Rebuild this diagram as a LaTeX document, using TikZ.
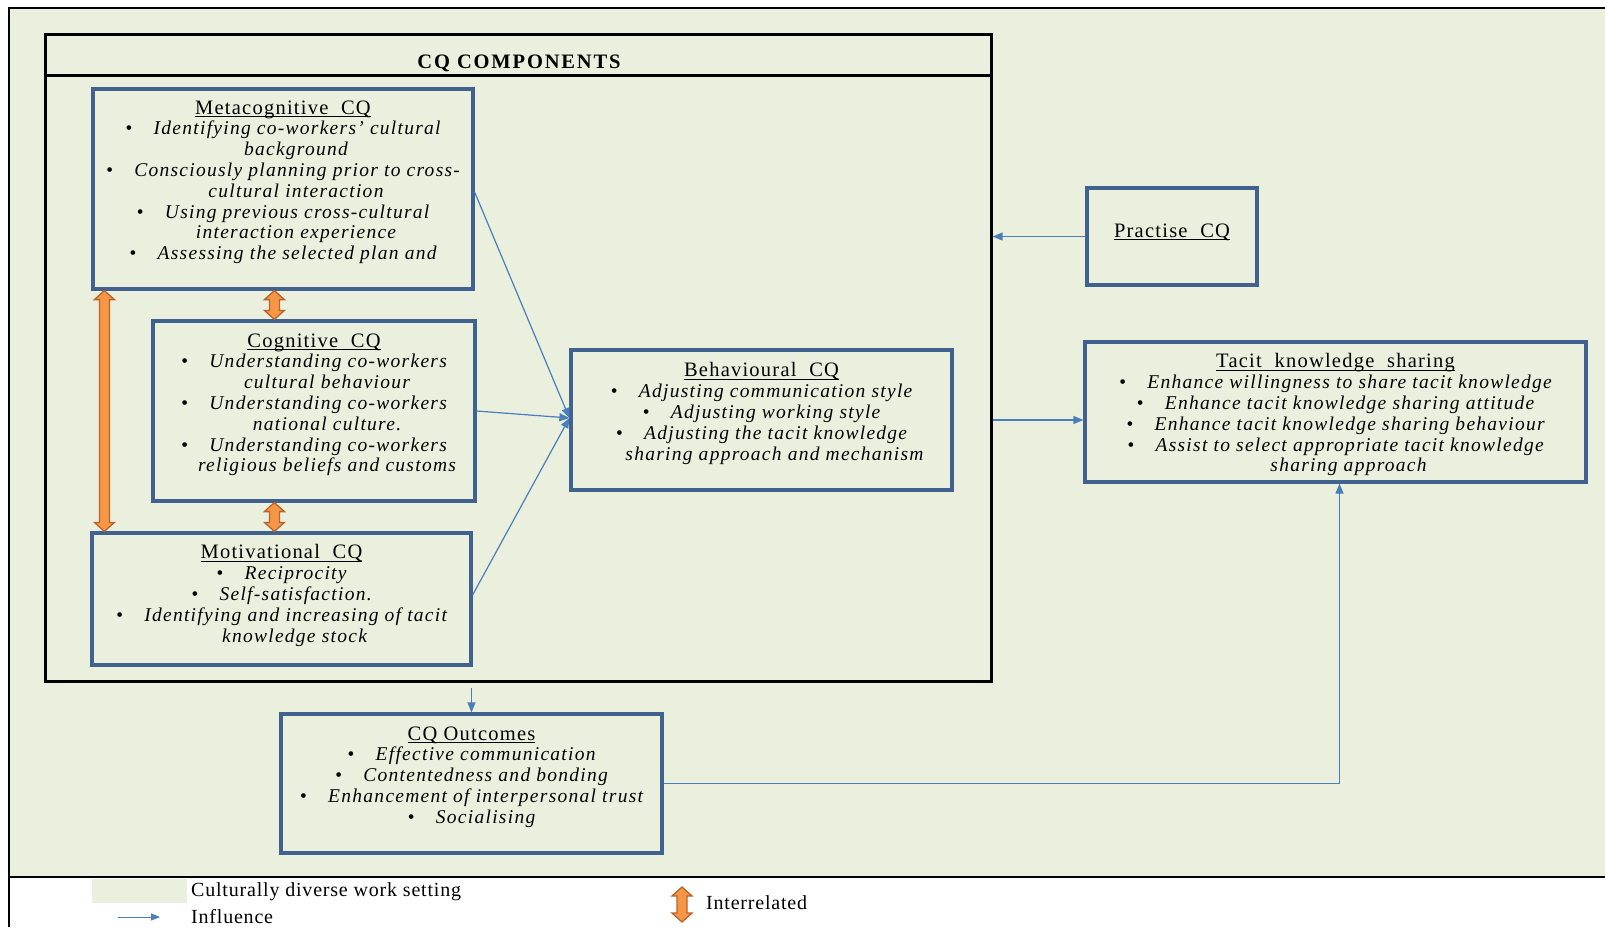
\documentclass[tikz,border=0pt]{standalone}
\usepackage{fontspec}
\setmainfont{Liberation Serif}
\newfontfamily\lsfont[LetterSpace=6.5]{Liberation Serif}
\newfontfamily\lstfont[LetterSpace=6]{Liberation Serif}
\newfontfamily\lsbfont[LetterSpace=9]{Liberation Serif}
\newfontfamily\legfont[LetterSpace=4]{Liberation Serif}
\usetikzlibrary{arrows.meta,calc}
\definecolor{bgg}{HTML}{EBF0DE}
\definecolor{boxblue}{HTML}{41618F}
\definecolor{lineblue}{HTML}{4A7EBB}
\definecolor{orfill}{HTML}{F79646}
\definecolor{ordraw}{HTML}{B7642A}
\newcommand{\bt}{\textbullet\hspace{1.1em}}
\newcommand{\cn}{\hspace*{26pt}}
\newsavebox{\ulbox}
\newcommand{\myul}[1]{\sbox{\ulbox}{#1}\rlap{\rule[-2.6pt]{\wd\ulbox}{0.9pt}}\usebox{\ulbox}}
\newcommand{\ttl}[1]{{\upshape\lstfont\fontsize{20.5}{20.8}\selectfont\myul{#1}}}
% vertical double arrow between two coordinates (first = upper)
\newcommand{\vdbl}[2]{\draw[orstyle] let \p1=(#1), \p2=(#2) in
  (\x1,\y1) -- (\x1+10pt,\y1-9pt) -- (\x1+5pt,\y1-9pt) -- (\x1+5pt,\y2+9pt) -- (\x1+10pt,\y2+9pt)
  -- (\x1,\y2) -- (\x1-10pt,\y2+9pt) -- (\x1-5pt,\y2+9pt) -- (\x1-5pt,\y1-9pt) -- (\x1-10pt,\y1-9pt) -- cycle;}
\begin{document}
\begin{tikzpicture}[x=1pt,y=-1pt,
  bluebox/.style={draw=boxblue, line width=3.2pt, fill=bgg, inner sep=0pt},
  txt/.style={anchor=north, align=center, inner sep=0pt, font=\lsfont\fontsize{19.5}{20.8}\selectfont\itshape},
  infl/.style={draw=lineblue, line width=1.2pt, -{Triangle[length=10pt,width=8pt]}},
  orstyle/.style={fill=orfill, draw=ordraw, line width=1.3pt, line join=miter},
  legtxt/.style={anchor=west, inner sep=0pt, font=\legfont\fontsize{20}{20}\selectfont}
]
\useasboundingbox (0,0) rectangle (1605,927);
\fill[white] (0,0) rectangle (1605,927);
% setting
\fill[bgg] (9,8) rectangle (1605,877);
\draw[line width=2.5pt] (1605,8) -- (9,8) -- (9,927);
\draw[line width=2.5pt] (9,877) -- (1605,877);
% components frame
\node[draw=black, line width=3pt, minimum width=946pt, minimum height=647pt, inner sep=0pt] (cqc) at (518,357.5) {};
\draw[line width=3pt] (cqc.north west |- 0,75) -- (cqc.north east |- 0,75);
\node[inner sep=0pt, font=\lsbfont\bfseries\fontsize{20.5}{20}\selectfont] (cqct) at (519,63) {CQ COMPONENTS};
% boxes
\node[bluebox, minimum width=380pt, minimum height=200pt] (meta) at (283,189) {};
\node[bluebox, minimum width=322pt, minimum height=180pt] (cog) at (314,411) {};
\node[bluebox, minimum width=379pt, minimum height=132pt] (mot) at (281.5,599) {};
\node[bluebox, minimum width=381pt, minimum height=140pt] (beh) at (761.5,420) {};
\node[bluebox, minimum width=170pt, minimum height=97pt] (prac) at (1172,236.5) {};
\node[bluebox, minimum width=501pt, minimum height=140pt] (tk) at (1335.5,412) {};
\node[bluebox, minimum width=381pt, minimum height=139pt] (out) at (471.5,783.5) {};
% texts
\node[txt] (metat) at ($(meta.north)+(0,13)$) {\ttl{Metacognitive\ \ CQ}\\
\bt Identifying co-workers’ cultural\\ \cn background\\
\bt Consciously planning prior to cross-\\ \cn cultural interaction\\
\bt Using previous cross-cultural\\ \cn interaction experience\\
\bt Assessing the selected plan and};
\node[txt] (cogt) at ($(cog.north)+(0,14)$) {\ttl{Cognitive\ \ CQ}\\
\bt Understanding co-workers\\ \cn cultural behaviour\\
\bt Understanding co-workers\\ \cn national culture.\\
\bt Understanding co-workers\\ \cn religious beliefs and customs};
\node[txt] (mott) at ($(mot.north)+(0,13)$) {\ttl{Motivational\ \ CQ}\\
\bt Reciprocity\\
\bt Self-satisfaction.\\
\bt Identifying and increasing of tacit\\ \cn knowledge stock};
\node[txt] (beht) at ($(beh.north)+(0,14)$) {\ttl{Behavioural\ \ CQ}\\
\bt Adjusting communication style\\
\bt Adjusting working style\\
\bt Adjusting the tacit knowledge\\ \cn sharing approach and mechanism};
\node[txt] (pract) at ($(prac.north)+(0,37)$) {\ttl{Practise\ \ CQ}};
\node[txt] (tkt) at ($(tk.north)+(0,13)$) {\ttl{Tacit\ \ knowledge\ \ sharing}\\
\bt Enhance willingness to share tacit knowledge\\
\bt Enhance tacit knowledge sharing attitude\\
\bt Enhance tacit knowledge sharing behaviour\\
\bt Assist to select appropriate tacit knowledge\\ \cn sharing approach};
\node[txt] (outt) at ($(out.north)+(0,14)$) {\ttl{CQ Outcomes}\\
\bt Effective communication\\
\bt Contentedness and bonding\\
\bt Enhancement of interpersonal trust\\
\bt Socialising};
% interrelated arrows
\coordinate (ia1t) at ($(meta.south west)+(13,0)$);
\coordinate (ia1b) at ($(mot.north west)+(14,0)$);
\coordinate (ia2t) at ($(meta.south west)+(183,0)$);
\coordinate (ia2b) at ($(cog.north west)+(123,0)$);
\coordinate (ia3t) at ($(cog.south west)+(123,0)$);
\coordinate (ia3b) at ($(mot.north west)+(184,0)$);
\vdbl{ia1t}{ia1b}
\vdbl{ia2t}{ia2b}
\vdbl{ia3t}{ia3b}
% influence arrows
\coordinate (behin) at ($(beh.west)+(0,-2)$);
\draw[infl] ($(meta.east)+(0,3)$) -- (behin);
\draw[infl] (cog.east) -- (behin);
\draw[infl] ($(mot.east)+(0,-4)$) -- (behin);
\draw[infl] (prac.west) -- (prac.west -| cqc.east);
\draw[infl] (beh.east -| cqc.east) -- (beh.east -| tk.west);
\draw[infl] ($(out.north |- cqc.south)+(0,5)$) -- (out.north);
\draw[infl] (out.east) -| ($(tk.south)+(4,0)$);
% legend
\node[fill=bgg, minimum width=95pt, minimum height=24pt, inner sep=0pt, anchor=north west] (sw) at (92,879) {};
\node[legtxt] (swt) at (191,892) {Culturally diverse work setting};
\coordinate (la1) at (118,917);
\coordinate (la2) at (160,917);
\draw[infl, line width=1pt, -{Triangle[length=9pt,width=7pt]}] (la1) -- (la2);
\node[legtxt] (lat) at (191,917) {Influence};
\coordinate (ldt1) at (682,887);
\coordinate (ldb1) at (682,922);
\vdbl{ldt1}{ldb1}
\node[legtxt] (ldt) at (706,903) {Interrelated};
\end{tikzpicture}
\end{document}
